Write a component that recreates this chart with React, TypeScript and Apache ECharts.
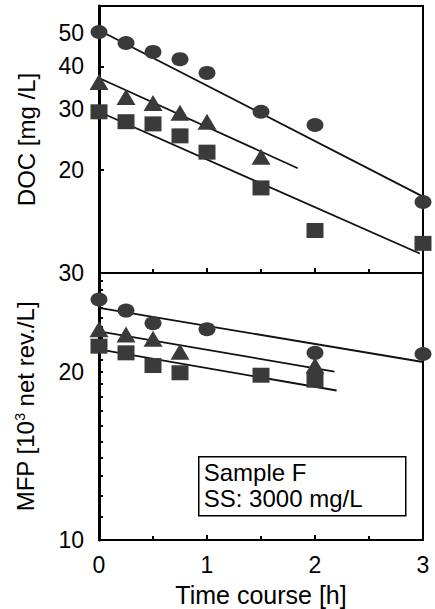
import React, { useEffect, useRef } from "react";
import * as echarts from "echarts";

// ---- data ----
const timesAll = [0, 0.25, 0.5, 0.75, 1, 1.5, 2, 3];
const docCircle = [50.4, 46.8, 44.1, 42.0, 38.3, 29.5, 27.0, 16.1];
const docTriangleTimes = [0, 0.25, 0.5, 0.75, 1, 1.5];
const docTriangle = [36.0, 32.6, 31.3, 29.3, 27.6, 21.8];
const docSquare = [29.5, 27.6, 27.2, 25.1, 22.5, 17.7, 13.3, 12.2];

const mfpCircleTimes = [0, 0.25, 0.5, 1, 2, 3];
const mfpCircle = [26.9, 25.7, 24.4, 23.8, 21.6, 21.5];
const mfpTriangleTimes = [0, 0.25, 0.5, 0.75, 2];
const mfpTriangle = [23.8, 23.3, 22.9, 21.7, 20.5];
const mfpSquareTimes = [0, 0.25, 0.5, 0.75, 1.5, 2];
const mfpSquare = [22.2, 21.6, 20.5, 19.9, 19.7, 19.3];

// fitted lines: [time, value] endpoints
const docCircleFit = [[0, 51.0], [3, 16.7]];
const docTriangleFit = [[0, 37.0], [1.84, 20.2]];
const docSquareFit = [[0, 29.5], [2.97, 11.4]];
const mfpCircleFit = [[0, 26.0], [3, 20.8]];
const mfpTriangleFit = [[0, 23.6], [2.18, 20.0]];
const mfpSquareFit = [[0, 21.9], [2.2, 18.5]];

// tick labels
const docTickLabels = [20, 30, 40, 50];
const mfpTickLabels = [10, 20, 30];
const mfpMinorTicks = [11, 12, 13, 14, 15, 16, 17, 18, 19, 20, 21, 22, 23, 24, 25, 26, 27, 28, 29];

const FONT = "Liberation Sans, Arial, Helvetica, sans-serif";
const MARK = "#3a3a3a";

const zip = (t: number[], v: number[]) => t.map((x, i) => [x, v[i]]);

export default function App() {
  const ref = useRef<HTMLDivElement>(null);
  useEffect(() => {
    if (!ref.current) return;
    const chart = echarts.init(ref.current, null, { renderer: "svg" });

    const xAxisBase = (gridIndex: number, showLabel: boolean) => ({
      type: "value",
      gridIndex,
      min: 0,
      max: 3,
      interval: 1,
      axisLine: { show: true, onZero: false, lineStyle: { color: "#000", width: 2 } },
      axisTick: { show: true, inside: true, length: 5, lineStyle: { color: "#000", width: 2 } },
      minorTick: { show: true, splitNumber: 2, length: 4, lineStyle: { color: "#000", width: 2 } },
      splitLine: { show: false },
      axisLabel: { show: showLabel, color: "#000", fontSize: 23, fontFamily: FONT, margin: 13 },
    });

    const scatter = (name: string, xi: number, data: number[][], symbol: string, size: number[]) => ({
      type: "scatter",
      name,
      xAxisIndex: xi,
      yAxisIndex: xi,
      data,
      symbol,
      symbolSize: size,
      itemStyle: { color: MARK, opacity: 1 },
      z: 3,
    });
    const fit = (name: string, xi: number, data: number[][]) => ({
      type: "line",
      name,
      xAxisIndex: xi,
      yAxisIndex: xi,
      data,
      showSymbol: false,
      symbol: "none",
      lineStyle: { color: "#111", width: 1.8 },
      z: 2,
    });

    chart.setOption({
      animation: false,
      grid: [
        { left: 99, right: 12, top: 6, height: 267, show: true, borderColor: "#000", borderWidth: 2 },
        { left: 99, right: 12, top: 273, height: 267, show: true, borderColor: "#000", borderWidth: 2 },
      ],
      xAxis: [
        xAxisBase(0, false),
        {
          ...xAxisBase(1, true),
          name: "Time course [h]",
          nameLocation: "middle",
          nameGap: 42,
          nameTextStyle: { color: "#000", fontSize: 25, fontFamily: FONT },
        },
      ],
      yAxis: [
        {
          type: "log",
          gridIndex: 0,
          min: 10,
          max: 60,
          axisLine: { show: true, onZero: false, lineStyle: { color: "#000", width: 3 } },
          axisTick: { show: true, inside: true, length: 5, customValues: docTickLabels, lineStyle: { color: "#000", width: 2 } },
          axisLabel: { show: true, customValues: docTickLabels, color: "#000", fontSize: 23, fontFamily: FONT, margin: 15 },
          splitLine: { show: false },
          name: "DOC [mg /L]",
          nameLocation: "middle",
          nameRotate: 90,
          nameGap: 61,
          nameTextStyle: { color: "#000", fontSize: 24, fontFamily: FONT },
        },
        {
          type: "log",
          gridIndex: 1,
          min: 10,
          max: 30,
          axisLine: { show: true, onZero: false, lineStyle: { color: "#000", width: 3 } },
          axisTick: { show: true, inside: true, length: 4, customValues: mfpMinorTicks, lineStyle: { color: "#000", width: 2 } },
          axisLabel: { show: true, customValues: mfpTickLabels, color: "#000", fontSize: 23, fontFamily: FONT, margin: 15 },
          splitLine: { show: false },
          name: "MFP [10{sup|3} net rev./L]",
          nameLocation: "middle",
          nameRotate: 90,
          nameGap: 62,
          nameTextStyle: {
            color: "#000",
            fontSize: 24,
            fontFamily: FONT,
            rich: {
              sup: { fontSize: 14, fontFamily: FONT, color: "#000", verticalAlign: "top", padding: [0, 0, 10, 0] },
            },
          },
        },
      ],
      series: [
        fit("docCircleFit", 0, docCircleFit),
        fit("docTriangleFit", 0, docTriangleFit),
        fit("docSquareFit", 0, docSquareFit),
        scatter("docCircle", 0, zip(timesAll, docCircle), "circle", [17, 14]),
        scatter("docTriangle", 0, zip(docTriangleTimes, docTriangle), "triangle", [19, 16]),
        scatter("docSquare", 0, zip(timesAll, docSquare), "rect", [17, 15]),
        fit("mfpCircleFit", 1, mfpCircleFit),
        fit("mfpTriangleFit", 1, mfpTriangleFit),
        fit("mfpSquareFit", 1, mfpSquareFit),
        scatter("mfpCircle", 1, zip(mfpCircleTimes, mfpCircle), "circle", [17, 14]),
        scatter("mfpTriangle", 1, zip(mfpTriangleTimes, mfpTriangle), "triangle", [19, 16]),
        scatter("mfpSquare", 1, zip(mfpSquareTimes, mfpSquare), "rect", [17, 15]),
      ],
      graphic: [
        {
          type: "group",
          left: 198,
          top: 456,
          children: [
            { type: "rect", shape: { x: 0, y: 0, width: 207, height: 59 }, style: { fill: "#fff", stroke: "#000", lineWidth: 1.5 } },
            { type: "text", x: 5, y: 16, style: { text: "Sample F", font: `24px ${FONT}`, fill: "#000", verticalAlign: "middle", lineHeight: 24 } },
            { type: "text", x: 5, y: 42, style: { text: "SS: 3000 mg/L", font: `24px ${FONT}`, fill: "#000", verticalAlign: "middle", lineHeight: 24 } },
          ],
        },
      ],
    });
    return () => chart.dispose();
  }, []);
  return <div ref={ref} style={{ width: 435, height: 609, position: "absolute", left: 0, top: 0 }} />;
}
